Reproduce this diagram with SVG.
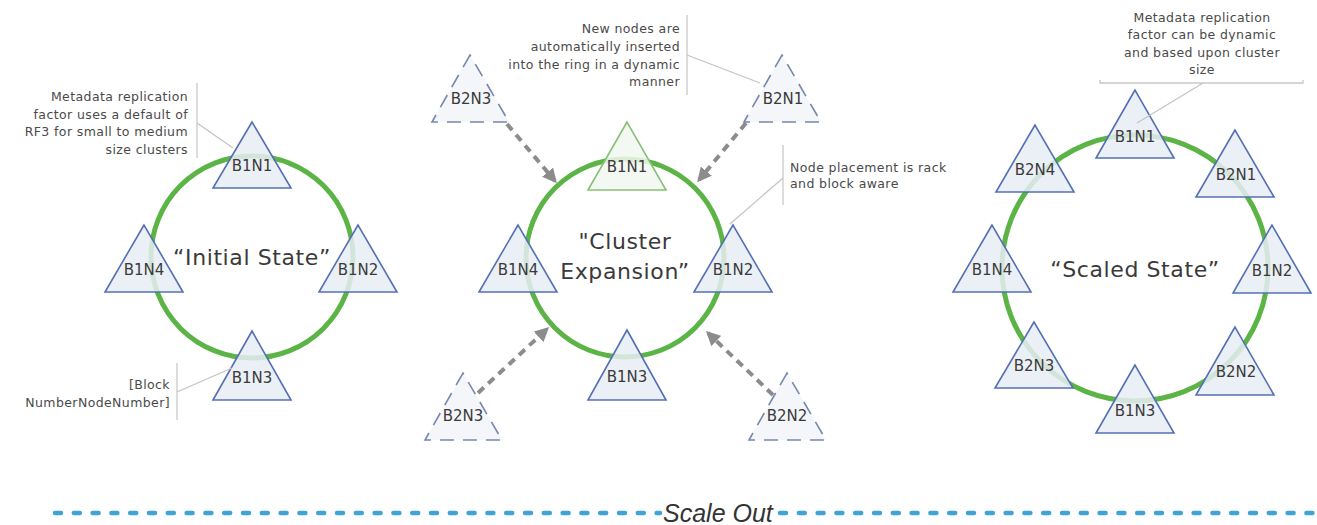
<svg xmlns="http://www.w3.org/2000/svg" width="1317" height="525" viewBox="0 0 1317 525">
  <style>
    .ring { fill: none; stroke: #5cb446; stroke-width: 5; }
    .tri { fill: #e8edf6; fill-opacity: 0.85; stroke: #5470b4; stroke-width: 1.6; stroke-linejoin: miter; }
    .tri-new { fill: #f2f7f0; fill-opacity: 0.85; stroke: #86c176; stroke-width: 1.6; }
    .tri-pending { fill: #f1f4f9; fill-opacity: 0.8; stroke: #7688b0; stroke-width: 1.6; stroke-dasharray: 14 9; }
    .lbl { font-family: "DejaVu Sans", "Liberation Sans", sans-serif; font-size: 15px; fill: #3a3a3a; text-anchor: middle; }
    .title { font-family: "DejaVu Sans", "Liberation Sans", sans-serif; font-size: 22px; fill: #3a3a3a; text-anchor: middle; letter-spacing: 0.6px; }
    .note { font-family: "DejaVu Sans", "Liberation Sans", sans-serif; font-size: 12.5px; fill: #4a4a4a; letter-spacing: 0.4px; }
    .bracket { fill: none; stroke: #c9c9c9; stroke-width: 1.3; }
    .callout { fill: none; stroke: #c4c4c4; stroke-width: 1.3; }
    .join { fill: none; stroke: #8c8c8c; stroke-width: 4; stroke-dasharray: 8 6; }
    .scale { fill: none; stroke: #3fa3d6; stroke-width: 4.5; stroke-dasharray: 6 12.8; stroke-linecap: round; }
    .scale-txt { font-family: "Liberation Sans", Arial, sans-serif; font-style: italic; font-size: 25px; fill: #333; }
  </style>
  <defs>
    <marker id="arrowhead" viewBox="0 0 10 10" refX="8" refY="5" markerWidth="3.6" markerHeight="3.6" orient="auto">
      <path d="M0,0 L10,5 L0,10 z" fill="#8c8c8c"/>
    </marker>
  </defs>

  <!-- ===== Initial state ===== -->
  <g id="initial-ring"><circle class="ring" cx="252" cy="257" r="101"/></g>
  <g id="initial-title"><text class="title" x="252" y="265">“Initial State”</text></g>

  <g id="init-B1N1"><polygon class="tri" points="252,122 213,188 291,188"/><text class="lbl" x="252" y="171">B1N1</text></g>
  <g id="init-B1N2"><polygon class="tri" points="358,225 319,292 397,292"/><text class="lbl" x="358" y="275">B1N2</text></g>
  <g id="init-B1N3"><polygon class="tri" points="252,331 213,400 291,400"/><text class="lbl" x="252" y="383">B1N3</text></g>
  <g id="init-B1N4"><polygon class="tri" points="144,225 105,292 183,292"/><text class="lbl" x="144" y="275">B1N4</text></g>

  <g id="note-rf3">
    <text class="note" text-anchor="end" x="188" y="101">Metadata replication</text>
    <text class="note" text-anchor="end" x="188" y="119">factor uses a default of</text>
    <text class="note" text-anchor="end" x="188" y="136">RF3 for small to medium</text>
    <text class="note" text-anchor="end" x="188" y="154">size clusters</text>
    <path class="bracket" d="M197,83 V158"/>
  </g>
  <g id="note-naming">
    <text class="note" text-anchor="end" x="170" y="389">[Block</text>
    <text class="note" text-anchor="end" x="170" y="407">NumberNodeNumber]</text>
    <path class="bracket" d="M177,363 V420"/>
  </g>

  <!-- ===== Cluster expansion ===== -->
  <g id="expansion-ring"><circle class="ring" cx="625" cy="258" r="99"/></g>
  <g id="expansion-title">
    <text class="title" x="625" y="249">"Cluster</text>
    <text class="title" x="625" y="279">Expansion”</text>
  </g>

  <g id="exp-B1N1"><polygon class="tri-new" points="627,122 588,190 666,190"/><text class="lbl" x="627" y="172">B1N1</text></g>
  <g id="exp-B1N2"><polygon class="tri" points="733,225 694,292 772,292"/><text class="lbl" x="733" y="275">B1N2</text></g>
  <g id="exp-B1N3"><polygon class="tri" points="627,330 588,400 666,400"/><text class="lbl" x="627" y="382">B1N3</text></g>
  <g id="exp-B1N4"><polygon class="tri" points="518,225 479,292 557,292"/><text class="lbl" x="518" y="275">B1N4</text></g>

  <g id="exp-B2N3-top"><polygon class="tri-pending" points="470,55 432,122 509,122"/><text class="lbl" x="471" y="104">B2N3</text></g>
  <g id="exp-B2N1"><polygon class="tri-pending" points="782,55 744,122 821,122"/><text class="lbl" x="783" y="104">B2N1</text></g>
  <g id="exp-B2N3-bottom"><polygon class="tri-pending" points="463,373 425,440 502,440"/><text class="lbl" x="463" y="421">B2N3</text></g>
  <g id="exp-B2N2"><polygon class="tri-pending" points="787,373 749,440 826,440"/><text class="lbl" x="787" y="421">B2N2</text></g>

  <g id="note-insert">
    <text class="note" text-anchor="end" x="680" y="33">New nodes are</text>
    <text class="note" text-anchor="end" x="680" y="51">automatically inserted</text>
    <text class="note" text-anchor="end" x="680" y="69">into the ring in a dynamic</text>
    <text class="note" text-anchor="end" x="680" y="86">manner</text>
    <path class="bracket" d="M687,15 V95"/>
  </g>
  <g id="note-placement">
    <text class="note" x="790" y="172">Node placement is rack</text>
    <text class="note" x="790" y="188">and block aware</text>
    <path class="bracket" d="M783,145 V205"/>
  </g>

  <!-- ===== Scaled state ===== -->
  <g id="scaled-ring"><circle class="ring" cx="1135" cy="268" r="133"/></g>
  <g id="scaled-title"><text class="title" x="1135" y="277">“Scaled State”</text></g>

  <g id="sc-B1N1"><polygon class="tri" points="1135,90 1096,158 1174,158"/><text class="lbl" x="1135" y="142">B1N1</text></g>
  <g id="sc-B2N1"><polygon class="tri" points="1235,130 1196,197 1274,197"/><text class="lbl" x="1236" y="180">B2N1</text></g>
  <g id="sc-B1N2"><polygon class="tri" points="1272,225 1233,293 1311,293"/><text class="lbl" x="1272" y="276">B1N2</text></g>
  <g id="sc-B2N2"><polygon class="tri" points="1235,327 1196,395 1274,395"/><text class="lbl" x="1236" y="377">B2N2</text></g>
  <g id="sc-B1N3"><polygon class="tri" points="1135,365 1096,433 1174,433"/><text class="lbl" x="1135" y="416">B1N3</text></g>
  <g id="sc-B2N3"><polygon class="tri" points="1034,322 995,388 1073,388"/><text class="lbl" x="1034" y="371">B2N3</text></g>
  <g id="sc-B1N4"><polygon class="tri" points="992,225 953,292 1031,292"/><text class="lbl" x="992" y="275">B1N4</text></g>
  <g id="sc-B2N4"><polygon class="tri" points="1035,125 996,192 1074,192"/><text class="lbl" x="1035" y="175">B2N4</text></g>

  <g id="note-dynamic-rf">
    <text class="note" text-anchor="middle" x="1202" y="22">Metadata replication</text>
    <text class="note" text-anchor="middle" x="1202" y="39">factor can be dynamic</text>
    <text class="note" text-anchor="middle" x="1202" y="57">and based upon cluster</text>
    <text class="note" text-anchor="middle" x="1202" y="74">size</text>
    <path class="bracket" d="M1100,80 V83 H1303 V80"/>
  </g>

  <!-- ===== Connectors ===== -->
  <g id="connectors">
    <path class="callout" d="M197,123 L233,148"/>
    <path class="callout" d="M177,392 L232,368"/>
    <path class="callout" d="M687,55 L760,83"/>
    <path class="callout" d="M783,178 L730,224"/>
    <path class="callout" d="M1203,83 L1137,123"/>
    <path class="join" d="M507,124 L555,181" marker-end="url(#arrowhead)"/>
    <path class="join" d="M746,123 L699,180" marker-end="url(#arrowhead)"/>
    <path class="join" d="M478,393 L547,329" marker-end="url(#arrowhead)"/>
    <path class="join" d="M773,395 L708,333" marker-end="url(#arrowhead)"/>
  </g>

  <!-- ===== Scale-out axis ===== -->
  <g id="scale-out">
    <path class="scale" d="M55,513 H660"/>
    <path class="scale" d="M780,513 H1315"/>
    <text class="scale-txt" x="663" y="522">Scale Out</text>
  </g>
</svg>
